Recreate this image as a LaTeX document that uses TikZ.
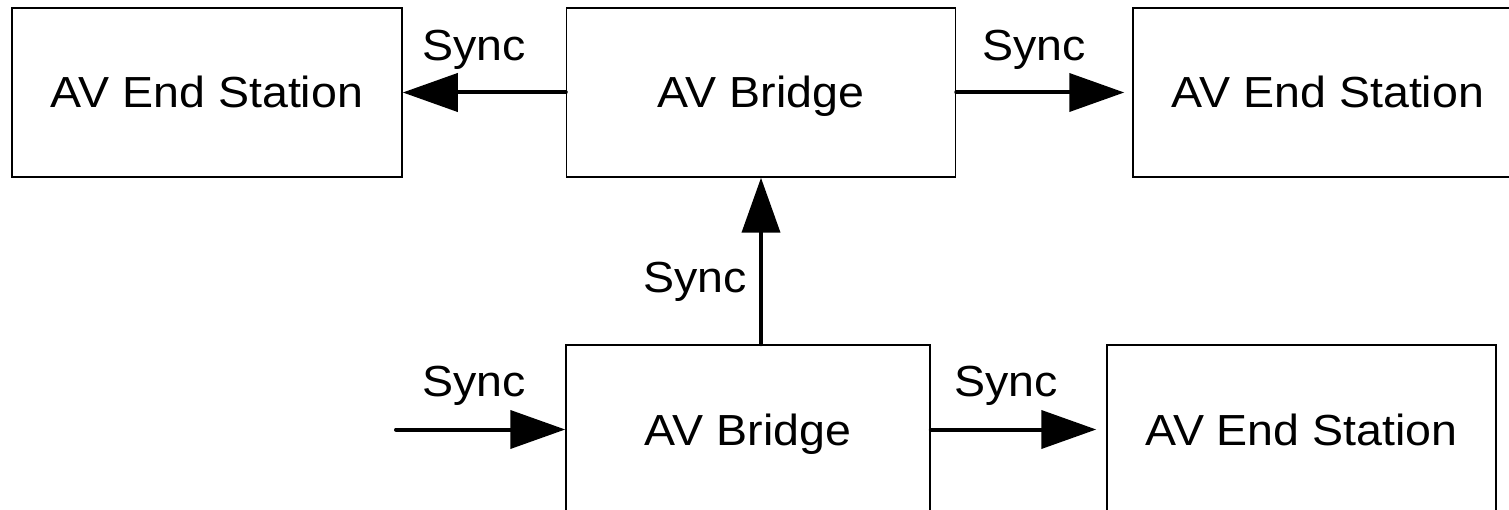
\documentclass[tikz,border=0pt]{standalone}
\usepackage{fontspec}
\setmainfont{Liberation Sans}
\usetikzlibrary{arrows.meta}
\newcommand{\wt}[1]{\scalebox{1.07}[1]{#1}}
\begin{document}
\begin{tikzpicture}[x=1pt,y=-1pt,
  box/.style={draw, line width=1.5pt, minimum width=#1, minimum height=169pt, inner sep=0pt,
    font=\fontsize{43.5}{50}\selectfont, text height=31pt, text depth=0pt},
  lbl/.style={anchor=base, inner sep=0pt, font=\fontsize{43.5}{50}\selectfont},
  syncarrow/.style={line width=4pt, line cap=round, -{Triangle[length=55pt,width=38pt]}}]
\useasboundingbox (0,0) rectangle (1509,510);
\clip (0,0) rectangle (1509,510);
\node[box=390pt] (esL) at (207,92.5) {\wt{AV End Station}};
\node[box=389pt] (brT) at (761,92.5) {\wt{AV Bridge}};
\node[box=390pt] (esR) at (1328,92.5) {\wt{AV End Station}};
\node[box=364pt] (brB) at (748,429.5) {\wt{AV Bridge}};
\node[box=389pt] (esB) at (1301.5,429.5) {\wt{AV End Station}};
\coordinate (inL) at (396,429.5);
\draw[syncarrow] (brT.west) -- (esL.east);
\draw[syncarrow, shorten >=8pt] (brT.east) -- (esR.west);
\draw[syncarrow] (brB.north -| brT.south) -- (brT.south);
\draw[syncarrow] (inL) -- (brB.west);
\draw[syncarrow, shorten >=10pt] (brB.east) -- (esB.west);
\node[lbl] (s1) at (474,61) {\wt{Sync}};
\node[lbl] (s2) at (1034,61) {\wt{Sync}};
\node[lbl] (s3) at (695,293) {\wt{Sync}};
\node[lbl] (s4) at (474,396) {\wt{Sync}};
\node[lbl] (s5) at (1006,396) {\wt{Sync}};
\end{tikzpicture}
\end{document}
